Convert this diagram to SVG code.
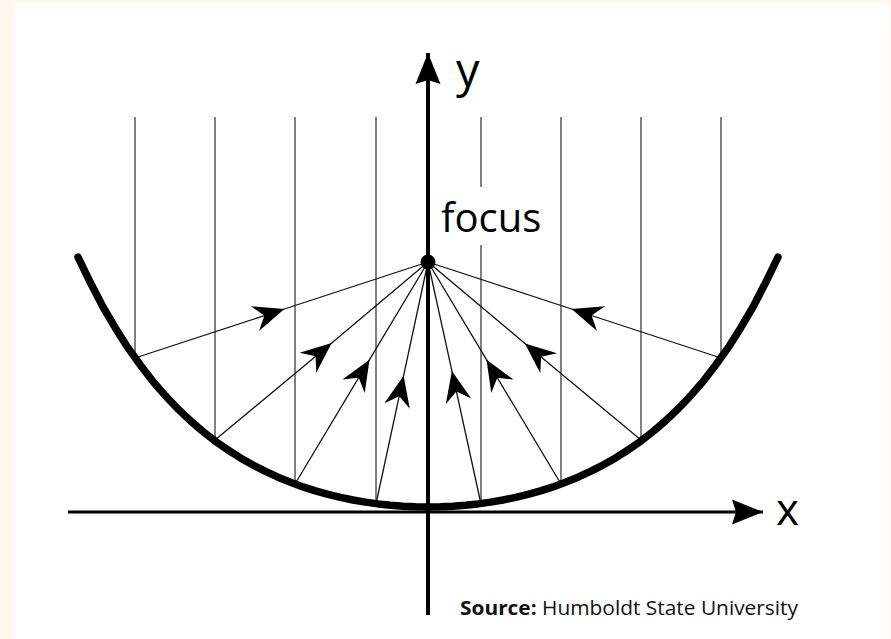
<svg xmlns="http://www.w3.org/2000/svg" width="891" height="639" viewBox="0 0 891 639">
  <style>
    .bg { fill: #fef9ec; }
    .panel { fill: #ffffff; }
    .ray { stroke: #4a4a4a; stroke-width: 1.4; fill: none; }
    .refl { stroke: #111111; stroke-width: 1.3; fill: none; marker-mid: url(#ah); }
    .axis { stroke: #000000; fill: none; }
    .mirror { stroke: #000000; stroke-width: 7.5; fill: none; stroke-linecap: round; stroke-linejoin: round; }
    .lbl { font-family: "Open Sans", "Noto Sans", "DejaVu Sans", sans-serif; fill: #000000; }
    .src { font-family: "Open Sans", "Noto Sans", "DejaVu Sans", sans-serif; fill: #111111; font-size: 20px; }
  </style>
  <defs>
    <marker id="ah" markerUnits="userSpaceOnUse" refX="0" refY="0" markerWidth="34" markerHeight="28" orient="auto" overflow="visible">
      <path d="M0,0 L-31,-13 L-21,0 L-31,13 Z" fill="#000000"/>
    </marker>
    <marker id="axh" markerUnits="userSpaceOnUse" refX="0" refY="0" markerWidth="34" markerHeight="28" orient="auto" overflow="visible">
      <path d="M0,0 L-31,-12.5 L-27,0 L-31,12.5 Z" fill="#000000"/>
    </marker>
  </defs>

  <rect class="bg" x="0" y="0" width="891" height="639"/>
  <rect class="panel" x="15" y="3" width="874" height="636"/>

  <g id="incoming-rays">
    <line class="ray" x1="135" y1="117" x2="135" y2="358"/>
    <line class="ray" x1="215" y1="117" x2="215" y2="440"/>
    <line class="ray" x1="295" y1="117" x2="295" y2="484"/>
    <line class="ray" x1="376" y1="117" x2="376" y2="503.5"/>
    <line class="ray" x1="481" y1="117" x2="481" y2="187"/>
    <line class="ray" x1="481" y1="245" x2="481" y2="503.5"/>
    <line class="ray" x1="561" y1="117" x2="561" y2="484"/>
    <line class="ray" x1="641" y1="117" x2="641" y2="440"/>
    <line class="ray" x1="721" y1="117" x2="721" y2="358"/>
  </g>

  <g id="connectors">
    <path class="refl" d="M135,358 L284.4,309 L428,262"/>
    <path class="refl" d="M215,440 L331.7,342.9 L428,262"/>
    <path class="refl" d="M295,484 L369.5,359.7 L428,262"/>
    <path class="refl" d="M376,504 L403.6,375.7 L428,262"/>
    <path class="refl" d="M481,504 L451.9,370.9 L428,262"/>
    <path class="refl" d="M561,484 L486.5,359.7 L428,262"/>
    <path class="refl" d="M641,440 L524.9,343.4 L428,262"/>
    <path class="refl" d="M721,358 L571.6,309 L428,262"/>
  </g>

  <g id="x-axis">
    <line class="axis" x1="68" y1="512" x2="763" y2="512" stroke-width="3" marker-end="url(#axh)"/>
    <text class="lbl" x="776" y="525" font-size="44">x</text>
  </g>

  <g id="parabola">
    <polyline class="mirror" points="78,257.2 90.5,282.8 103,307 115.5,328.2 128,347.9 140.5,365.3 153,381.5 165.5,395.9 178,409 190.5,420.8 203,431.6 215.5,441.3 228,450 240.5,457.9 253,465.1 265.5,471.4 278,477.2 290.5,482.3 303,486.9 315.5,490.9 328,494.4 340.5,497.4 353,500 365.5,502.1 378,503.9 390.5,505.2 403,506.2 415.5,506.8 428,507 440.5,506.8 453,506.2 465.5,505.2 478,503.9 490.5,502.1 503,500 515.5,497.4 528,494.4 540.5,490.9 553,486.9 565.5,482.3 578,477.2 590.5,471.4 603,465.1 615.5,457.9 628,450 640.5,441.3 653,431.6 665.5,420.8 678,409 690.5,395.9 703,381.5 715.5,365.3 728,347.9 740.5,328.2 753,307 765.5,282.8 778,257.2"/>
  </g>

  <g id="y-axis">
    <line class="axis" x1="428" y1="615" x2="428" y2="53" stroke-width="4" marker-end="url(#axh)"/>
    <text class="lbl" x="456" y="87" font-size="47">y</text>
  </g>

  <g id="focus">
    <circle cx="428" cy="262" r="7.5" fill="#000000"/>
    <text class="lbl" x="441" y="232" font-size="40">focus</text>
  </g>

  <g id="source">
    <text class="src" x="460" y="615" textLength="338" lengthAdjust="spacingAndGlyphs"><tspan font-weight="bold">Source:</tspan> Humboldt State University</text>
  </g>
</svg>
